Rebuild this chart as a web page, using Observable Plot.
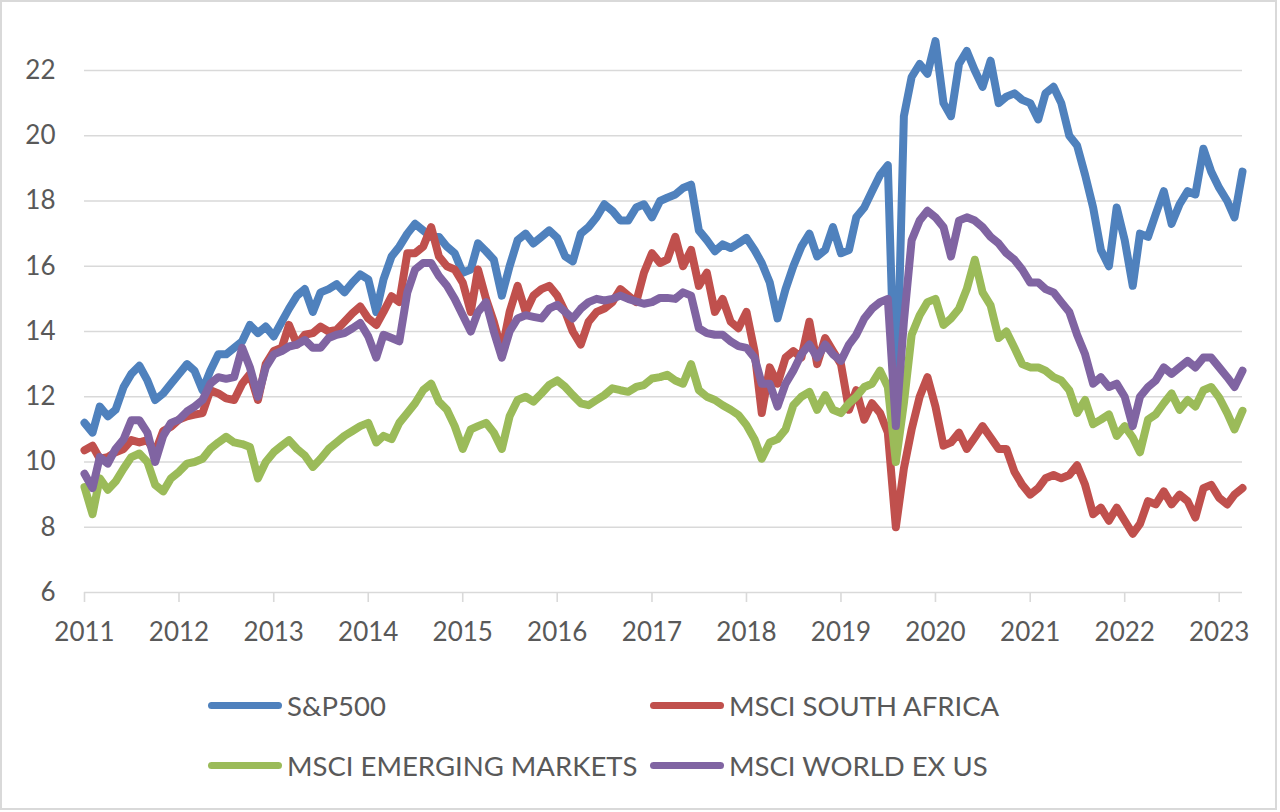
<!DOCTYPE html>
<html>
<head>
<meta charset="utf-8">
<script src="https://cdn.jsdelivr.net/npm/d3@7"></script>
<script src="https://cdn.jsdelivr.net/npm/@observablehq/plot@0.6"></script>
<style>
  html, body { margin: 0; padding: 0; background: #fff; }
  #wrap { position: relative; width: 1280px; height: 812px; overflow: hidden; font-family: Lato, "Open Sans", sans-serif; }
  #frame { position: absolute; left: 0; top: 0; width: 1277px; height: 810px; box-sizing: border-box; border: 2px solid #d9d9d9; pointer-events: none; }
  #chart { position: absolute; left: 0; top: 0; }
  .lg { position: absolute; display: flex; align-items: center; height: 30px; font-size: 27.5px; color: #595959; white-space: nowrap; }
  .lg .sw { display: inline-block; width: 74px; height: 7px; border-radius: 3.5px; margin-right: 5px; }
</style>
</head>
<body>
<div id="wrap">
  <div id="chart"></div>
  <div id="legend"></div>
  <div id="frame"></div>
</div>
<script>
// ---- Data (monthly readings, Jan 2011 .. Apr 2023) ----
const seriesNames = ["S&P500", "MSCI SOUTH AFRICA", "MSCI EMERGING MARKETS", "MSCI WORLD EX US"];
const seriesColors = ["#4F81BD", "#C0504D", "#9BBB59", "#8064A2"];
const yearTicks = [2011, 2012, 2013, 2014, 2015, 2016, 2017, 2018, 2019, 2020, 2021, 2022, 2023];
const valueTicks = [6, 8, 10, 12, 14, 16, 18, 20, 22];

const sp500 = [
  11.2, 10.9, 11.7, 11.4, 11.6, 12.3, 12.7, 12.95, 12.5, 11.9, 12.1, 12.4,
  12.7, 13.0, 12.8, 12.2, 12.8, 13.3, 13.3, 13.5, 13.7, 14.2, 13.95, 14.15,
  13.85, 14.3, 14.7, 15.1, 15.3, 14.6, 15.2, 15.3, 15.45, 15.2, 15.5, 15.75,
  15.6, 14.6, 15.6, 16.3, 16.6, 17.0, 17.3, 17.1, 16.9, 16.9, 16.6, 16.4,
  15.8, 15.9, 16.7, 16.46, 16.2, 15.1, 16.0, 16.8, 17.0, 16.7, 16.9, 17.1,
  16.87, 16.3, 16.15, 17.0, 17.2, 17.5, 17.9, 17.7, 17.4, 17.4, 17.8, 17.9,
  17.5, 18.0, 18.1, 18.2, 18.4, 18.5, 17.1, 16.8, 16.46, 16.67, 16.56, 16.7,
  16.87, 16.5, 16.1, 15.5, 14.4, 15.3, 16.0, 16.6, 17.0, 16.3, 16.5, 17.2,
  16.4, 16.5, 17.5, 17.8, 18.3, 18.8, 19.1, 11.0, 20.6, 21.8, 22.2, 21.9,
  22.9, 21.0, 20.6, 22.2, 22.6, 22.0, 21.5, 22.3, 21.0, 21.2, 21.3, 21.1,
  21.0, 20.5, 21.3, 21.5, 21.0, 20.0, 19.7, 18.8, 17.8, 16.5, 16.0, 17.8,
  16.8, 15.4, 17.0, 16.9, 17.6, 18.3, 17.3, 17.9, 18.3, 18.2, 19.6, 18.9,
  18.4, 18.0, 17.5, 18.9
];
const southAfrica = [
  10.36, 10.5, 10.1, 10.15, 10.3, 10.4, 10.67, 10.6, 10.67, 10.3, 10.95, 11.08,
  11.3, 11.4, 11.45, 11.5, 12.2, 12.1, 11.95, 11.9, 12.4, 12.7, 11.9, 13.0,
  13.4, 13.5, 14.2, 13.6, 13.9, 13.95, 14.15, 14.0, 14.05, 14.3, 14.56, 14.77,
  14.4, 14.2, 14.6, 15.08, 14.9, 16.4, 16.4, 16.6, 17.2, 16.3, 16.0, 15.9,
  15.5, 14.6, 15.9, 15.0, 14.3, 13.4, 14.6, 15.4, 14.6, 15.1, 15.3, 15.4,
  15.1, 14.6, 14.0, 13.6, 14.3, 14.6, 14.7, 14.9, 15.3, 15.1, 14.9, 15.8,
  16.4, 16.1, 16.2, 16.9, 16.0, 16.5, 15.4, 15.8, 14.6, 15.0, 14.3, 14.1,
  14.6, 13.4, 11.5, 12.9, 12.4, 13.2, 13.4, 13.2, 14.3, 13.0, 13.8, 13.4,
  13.0, 11.6, 12.2, 11.3, 11.8, 11.5, 10.9, 8.0, 9.8, 11.0, 12.0, 12.6,
  11.7, 10.5, 10.6, 10.9, 10.4, 10.75, 11.1, 10.75, 10.4, 10.4, 9.7, 9.3,
  9.0, 9.2, 9.5, 9.6, 9.5, 9.6, 9.9, 9.3, 8.4, 8.6, 8.2, 8.6,
  8.2, 7.8, 8.1, 8.8, 8.7, 9.1, 8.7, 9.0, 8.8, 8.3, 9.2, 9.3,
  8.9, 8.7, 9.0, 9.2
];
const emergingMarkets = [
  9.23, 8.4, 9.5, 9.15, 9.4, 9.8, 10.15, 10.26, 10.0, 9.3, 9.1, 9.5,
  9.7, 9.95, 10.0, 10.1, 10.4, 10.6, 10.77, 10.6, 10.55, 10.46, 9.5, 10.0,
  10.3, 10.5, 10.67, 10.4, 10.2, 9.85, 10.1, 10.4, 10.6, 10.8, 10.95, 11.1,
  11.2, 10.6, 10.8, 10.7, 11.2, 11.5, 11.8, 12.2, 12.4, 11.85, 11.6, 11.1,
  10.4, 11.0, 11.1, 11.2, 10.9, 10.4, 11.4, 11.9, 12.0, 11.85, 12.1, 12.36,
  12.5, 12.3, 12.05, 11.8, 11.74, 11.9, 12.05, 12.26, 12.2, 12.15, 12.3, 12.36,
  12.56, 12.6, 12.67, 12.5, 12.4, 13.0, 12.2, 12.0, 11.9, 11.74, 11.6, 11.44,
  11.13, 10.7, 10.1, 10.6, 10.7, 11.0, 11.74, 12.0, 12.15, 11.6, 12.05, 11.6,
  11.5, 11.8, 12.0, 12.3, 12.4, 12.8, 12.3, 10.0, 11.8, 13.9, 14.5, 14.9,
  15.0, 14.2, 14.4, 14.7, 15.3, 16.2, 15.2, 14.8, 13.8, 14.0, 13.5, 13.0,
  12.9, 12.9, 12.8, 12.6, 12.5, 12.2, 11.5, 11.9, 11.16, 11.3, 11.46, 10.8,
  11.1, 10.75, 10.3, 11.3, 11.46, 11.8, 12.1, 11.6, 11.9, 11.7, 12.2, 12.3,
  11.97, 11.5, 11.0, 11.57
];
const worldExUs = [
  9.64, 9.2, 10.15, 9.95, 10.4, 10.7, 11.28, 11.28, 10.9, 10.0, 10.8, 11.2,
  11.3, 11.55, 11.7, 11.9, 12.4, 12.6, 12.55, 12.6, 13.5, 12.9, 12.0, 12.9,
  13.3, 13.4, 13.54, 13.6, 13.74, 13.5, 13.5, 13.8, 13.9, 13.95, 14.1, 14.26,
  13.85, 13.2, 13.9, 13.8, 13.7, 15.2, 15.9, 16.1, 16.1, 15.7, 15.4, 15.0,
  14.5, 14.0, 14.6, 14.9, 14.0, 13.2, 14.0, 14.4, 14.5, 14.45, 14.4, 14.7,
  14.82, 14.6, 14.4, 14.7, 14.9, 15.0, 14.95, 15.0, 15.1, 15.0, 14.92, 14.85,
  14.9, 15.03, 15.03, 15.0, 15.2, 15.1, 14.1, 13.95, 13.9, 13.9, 13.7, 13.55,
  13.5, 13.2, 12.4, 12.4, 11.7, 12.4, 12.8, 13.3, 13.6, 13.2, 13.6, 13.3,
  13.1, 13.6, 13.9, 14.4, 14.7, 14.9, 15.0, 11.1, 14.3, 16.8, 17.4, 17.7,
  17.5, 17.2, 16.3, 17.4, 17.5, 17.4, 17.2, 16.9, 16.7, 16.4, 16.2, 15.9,
  15.5, 15.5, 15.3, 15.2, 14.9, 14.6, 13.9, 13.3, 12.4, 12.6, 12.3, 12.4,
  12.0, 11.1, 12.0, 12.3, 12.5, 12.9, 12.7, 12.9, 13.1, 12.9, 13.2, 13.2,
  12.9, 12.6, 12.3, 12.8
];

// ---- Build table ----
const months = d3.utcMonth.range(new Date(Date.UTC(2011, 0, 1)), new Date(Date.UTC(2023, 4, 1)));
const allSeries = [sp500, southAfrica, emergingMarkets, worldExUs];
const rows = [];
allSeries.forEach((vals, si) => {
  vals.forEach((v, i) => rows.push({date: months[i], value: v, series: seriesNames[si]}));
});
const xTickDates = yearTicks.map(y => new Date(Date.UTC(y, 0, 1)));

const chart = Plot.plot({
  width: 1280,
  height: 650,
  marginLeft: 84,
  marginRight: 38,
  marginTop: 70,
  marginBottom: 58,
  style: {fontFamily: "Lato, 'Open Sans', sans-serif", fontSize: "26px", background: "transparent", overflow: "visible"},
  x: {type: "utc", domain: [new Date(Date.UTC(2011, 0, 1)), new Date(Date.UTC(2023, 3, 1))]},
  y: {domain: [6, 22]},
  color: {domain: seriesNames, range: seriesColors},
  marks: [
    Plot.ruleY(valueTicks, {stroke: "#d9d9d9", strokeWidth: 1.6}),
    Plot.axisY({ticks: valueTicks, tickSize: 0, tickPadding: 29, fill: "#595959", fontSize: 26, label: null, tickFormat: d => String(d)}),
    Plot.axisX({ticks: xTickDates, tickSize: 10, tickPadding: 20, stroke: "#d9d9d9", strokeWidth: 1.6, fill: "#595959", fontSize: 26, label: null, tickFormat: d => String(d.getUTCFullYear())}),
    Plot.lineY(rows, {x: "date", y: "value", z: "series", stroke: "series", strokeWidth: 8, strokeLinejoin: "round", strokeLinecap: "round"})
  ]
});
document.getElementById("chart").appendChild(chart);

// ---- Legend ----
const legendPos = [
  {left: 208, top: 690}, {left: 650, top: 690},
  {left: 208, top: 750}, {left: 650, top: 750}
];
const legend = document.getElementById("legend");
seriesNames.forEach((name, i) => {
  const item = document.createElement("div");
  item.className = "lg";
  item.style.left = legendPos[i].left + "px";
  item.style.top = legendPos[i].top + "px";
  const sw = document.createElement("span");
  sw.className = "sw";
  sw.style.background = seriesColors[i];
  const tx = document.createElement("span");
  tx.textContent = name;
  item.appendChild(sw);
  item.appendChild(tx);
  legend.appendChild(item);
});
</script>
</body>
</html>
